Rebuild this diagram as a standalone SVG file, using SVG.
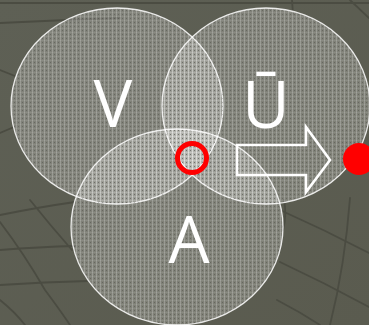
<svg xmlns="http://www.w3.org/2000/svg" width="369" height="325" viewBox="0 0 369 325">
  <defs>
    <linearGradient id="bg" x1="0" y1="0" x2="1" y2="1">
      <stop offset="0" stop-color="#5e6055"/>
      <stop offset="1" stop-color="#5a5b4f"/>
    </linearGradient>
    <pattern id="tex" width="4" height="4" patternUnits="userSpaceOnUse">
      <rect width="4" height="4" fill="#ffffff" fill-opacity="0.22"/>
      <rect x="0" y="0" width="1" height="4" fill="#ffffff" fill-opacity="0.2"/>
      <rect x="0" y="0" width="4" height="1" fill="#ffffff" fill-opacity="0.08"/>
      <rect x="2" y="2" width="1" height="1" fill="#000000" fill-opacity="0.2"/>
    </pattern>
  </defs>
  <style>
    .grid { fill: none; stroke: #4b4c42; stroke-width: 1.8; stroke-linecap: round; }
    .disc { fill: url(#tex); stroke: #ffffff; stroke-opacity: 0.85; stroke-width: 1.3; }
    .lbl { font-family: "Open Sans", "DejaVu Sans", sans-serif; font-size: 65px; fill: #ffffff; text-anchor: middle; }
  </style>

  <rect width="369" height="325" fill="url(#bg)"/>
  <g id="background-grid">
    <path class="grid" d="M0,3 L369,3"/>
    <path class="grid" d="M0,23 Q60,20 120,18"/>
    <path class="grid" d="M0,70 L15,76"/>
    <path class="grid" d="M0,133 L14,127"/>
    <path class="grid" d="M0,215 Q40,207 75,202"/>
    <path class="grid" d="M0,250 Q40,247 75,246"/>
    <path class="grid" d="M0,285 Q45,282 88,281"/>
    <path class="grid" d="M0,222 Q25,255 45,290 Q60,310 70,325"/>
    <path class="grid" d="M30,200 Q50,225 72,250"/>
    <path class="grid" d="M0,300 Q15,312 25,325"/>
    <path class="grid" d="M292,0 L293,14"/>
    <path class="grid" d="M350,0 L369,18"/>
    <path class="grid" d="M350,198 Q345,265 330,325"/>
    <path class="grid" d="M284,200 Q287,215 283,230"/>
    <path class="grid" d="M280,210 Q325,230 369,253"/>
    <path class="grid" d="M280,262 Q325,283 369,307"/>
    <path class="grid" d="M277,300 Q300,312 320,325"/>
  </g>

  <g id="node-v">
    <ellipse class="disc" cx="117" cy="106" rx="106" ry="98"/>
    <text class="lbl" x="113" y="127">V</text>
  </g>
  <g id="node-u">
    <ellipse class="disc" cx="266" cy="106" rx="104" ry="98"/>
    <text class="lbl" x="266" y="128">Ū</text>
  </g>
  <g id="node-a">
    <ellipse class="disc" cx="177" cy="227" rx="106" ry="98"/>
    <text class="lbl" x="189" y="263">A</text>
  </g>

  <g id="node-ring">
    <circle cx="192" cy="158" r="14.5" fill="none" stroke="#ff0000" stroke-width="5"/>
  </g>
  <g id="node-dot">
    <circle cx="359" cy="159" r="16" fill="#ff0000"/>
  </g>

  <g id="connectors">
    <path d="M237,145 L306,145 L306,127 L330,160 L306,192 L306,175 L237,175 Z" fill="none" stroke="#ffffff" stroke-width="2.6" stroke-linejoin="miter"/>
  </g>
</svg>
